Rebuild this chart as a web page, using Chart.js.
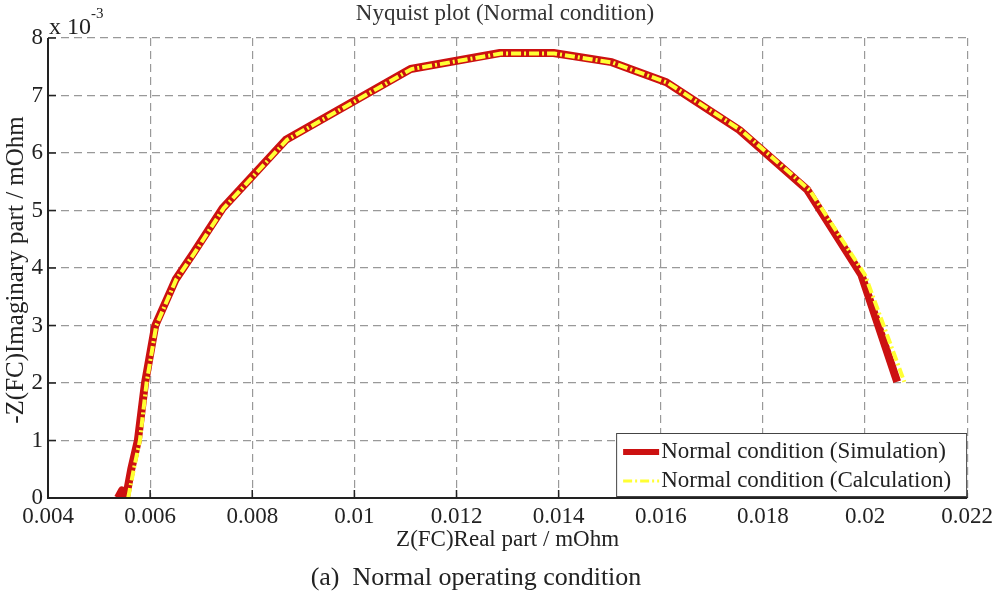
<!DOCTYPE html>
<html>
<head>
<meta charset="utf-8">
<script src="https://cdn.jsdelivr.net/npm/chart.js@4"></script>
<style>
  html, body { margin: 0; padding: 0; background: #fff; }
  #wrap { width: 998px; height: 594px; position: relative; }
</style>
</head>
<body>
<div id="wrap"><canvas id="nyquist" width="998" height="594"></canvas></div>
<script>
// Simulation curve (real / imaginary, imaginary in units of 1e-3 mOhm)
const simReal = [0.00537, 0.00545, 0.00553, 0.00563, 0.00576, 0.00590, 0.00610, 0.00650, 0.00684, 0.00742, 0.00866, 0.01110, 0.01285, 0.01390, 0.01504, 0.01611, 0.01754, 0.01887, 0.01993, 0.02063];
const simImag = [0.00, 0.13, 0.02, 0.50, 1.00, 2.00, 3.00, 3.80, 4.25, 5.04, 6.23, 7.46, 7.74, 7.74, 7.58, 7.23, 6.40, 5.36, 3.88, 2.02];

// Calculation curve
const calcReal = [0.00557, 0.00568, 0.00580, 0.00593, 0.00612, 0.00651, 0.00686, 0.00744, 0.00868, 0.01112, 0.01287, 0.01392, 0.01506, 0.01614, 0.01758, 0.01892, 0.02000, 0.02077];
const calcImag = [0.00, 0.50, 1.00, 2.00, 3.00, 3.80, 4.25, 5.04, 6.23, 7.46, 7.73, 7.73, 7.57, 7.22, 6.39, 5.35, 3.88, 2.02];

// Axis ticks
const xTicks = [0.004, 0.006, 0.008, 0.01, 0.012, 0.014, 0.016, 0.018, 0.02, 0.022];
const yTicks = [0, 1, 2, 3, 4, 5, 6, 7, 8];

const seriesNames = ['Normal condition (Simulation)', 'Normal condition (Calculation)'];

const SERIF = '"Liberation Serif", "DejaVu Serif", serif';
const RED = '#cc1111';
const YELLOW = '#ffff33';

function pts(xs, ys) {
    return xs.map((x, i) => ({ x: x, y: ys[i] / 1000 }));
}

// draws axes lines, inward ticks, titles, exponent and legend
const decorPlugin = {
    id: 'decor',
    afterDraw(chart) {
        const ctx = chart.ctx;
        const a = chart.chartArea;
        const xs = chart.scales.x, ys = chart.scales.y;
        ctx.save();

        // solid left / bottom axes
        ctx.strokeStyle = '#222';
        ctx.lineWidth = 2;
        ctx.setLineDash([]);
        ctx.beginPath();
        ctx.moveTo(a.left, a.top);
        ctx.lineTo(a.left, a.bottom);
        ctx.lineTo(a.right, a.bottom);
        ctx.stroke();

        // inward ticks
        ctx.lineWidth = 1.5;
        ctx.beginPath();
        xTicks.forEach(v => {
            const px = xs.getPixelForValue(v);
            ctx.moveTo(px, a.bottom);
            ctx.lineTo(px, a.bottom - 8);
        });
        yTicks.forEach(v => {
            const py = ys.getPixelForValue(v / 1000);
            ctx.moveTo(a.left, py);
            ctx.lineTo(a.left + 8, py);
        });
        ctx.stroke();

        const cx = (a.left + a.right) / 2;
        ctx.fillStyle = '#333';
        ctx.textAlign = 'center';
        ctx.textBaseline = 'middle';

        // title
        ctx.font = '23px ' + SERIF;
        ctx.fillText('Nyquist plot (Normal condition)', 505, 14);

        // x axis title
        ctx.fillStyle = '#222';
        ctx.font = '23px ' + SERIF;
        ctx.fillText('Z(FC)Real part / mOhm', cx, 540);

        // caption
        ctx.font = '26px ' + SERIF;
        ctx.fillText('(a)  Normal operating condition', 476, 578);

        // y axis title
        ctx.font = '25px ' + SERIF;
        ctx.save();
        ctx.translate(16, 270);
        ctx.rotate(-Math.PI / 2);
        ctx.fillText('-Z(FC)Imaginary part / mOhm', 0, 0);
        ctx.restore();

        // exponent
        ctx.textAlign = 'left';
        ctx.font = '24px ' + SERIF;
        ctx.fillText('x 10', a.left + 1, 28);
        ctx.font = '15px ' + SERIF;
        ctx.fillText('-3', a.left + 43, 14);

        // legend box
        const lw = 351, lh = 64;
        const lx = a.right - lw, ly = a.bottom - lh - 1;
        ctx.fillStyle = '#fff';
        ctx.fillRect(lx, ly, lw, lh);
        ctx.strokeStyle = '#444';
        ctx.lineWidth = 1;
        ctx.strokeRect(lx + 0.5, ly + 0.5, lw - 1, lh - 1);

        const r1 = ly + 19, r2 = ly + 48;
        ctx.lineCap = 'butt';
        ctx.strokeStyle = RED;
        ctx.lineWidth = 6;
        ctx.beginPath();
        ctx.moveTo(lx + 7, r1);
        ctx.lineTo(lx + 43, r1);
        ctx.stroke();

        ctx.strokeStyle = YELLOW;
        ctx.lineWidth = 3;
        ctx.setLineDash([9, 3, 2, 3]);
        ctx.beginPath();
        ctx.moveTo(lx + 7, r2);
        ctx.lineTo(lx + 43, r2);
        ctx.stroke();
        ctx.setLineDash([]);

        ctx.fillStyle = '#222';
        ctx.font = '23px ' + SERIF;
        ctx.textAlign = 'left';
        ctx.fillText(seriesNames[0], lx + 45, r1);
        ctx.fillText(seriesNames[1], lx + 45, r2);

        ctx.restore();
    }
};

const chart = new Chart(document.getElementById('nyquist'), {
    type: 'scatter',
    data: {
        datasets: [
            {
                label: seriesNames[0],
                data: pts(simReal, simImag),
                showLine: true,
                borderColor: RED,
                backgroundColor: RED,
                borderWidth: 8,
                pointRadius: 0,
                tension: 0,
                borderJoinStyle: 'round',
                order: 2
            },
            {
                label: seriesNames[1],
                data: pts(calcReal, calcImag),
                showLine: true,
                borderColor: YELLOW,
                backgroundColor: YELLOW,
                borderWidth: 4,
                borderDash: [10, 3, 2, 3],
                pointRadius: 0,
                tension: 0,
                order: 1
            }
        ]
    },
    options: {
        responsive: false,
        animation: false,
        layout: { padding: { left: 0, top: 38, right: 30, bottom: 0 } },
        plugins: {
            legend: { display: false },
            title: { display: false },
            tooltip: { enabled: false }
        },
        scales: {
            x: {
                type: 'linear',
                min: 0.004,
                max: 0.022,
                afterFit: s => { s.height = 96; },
                afterBuildTicks: s => { s.ticks = xTicks.map(v => ({ value: v })); },
                ticks: {
                    padding: 5,
                    color: '#222',
                    font: { family: SERIF, size: 23 },
                    callback: v => String(parseFloat(v.toFixed(3)))
                },
                grid: { color: '#999', lineWidth: 1.2, drawTicks: false },
                border: { display: false, dash: [8, 5] }
            },
            y: {
                type: 'linear',
                min: 0,
                max: 0.008,
                afterFit: s => { s.width = 48; },
                afterBuildTicks: s => { s.ticks = yTicks.map(v => ({ value: v / 1000 })); },
                ticks: {
                    padding: 5,
                    color: '#222',
                    font: { family: SERIF, size: 23 },
                    callback: v => String(Math.round(v * 1000))
                },
                grid: { color: '#999', lineWidth: 1.2, drawTicks: false },
                border: { display: false, dash: [8, 5] }
            }
        }
    },
    plugins: [decorPlugin]
});
</script>
</body>
</html>
